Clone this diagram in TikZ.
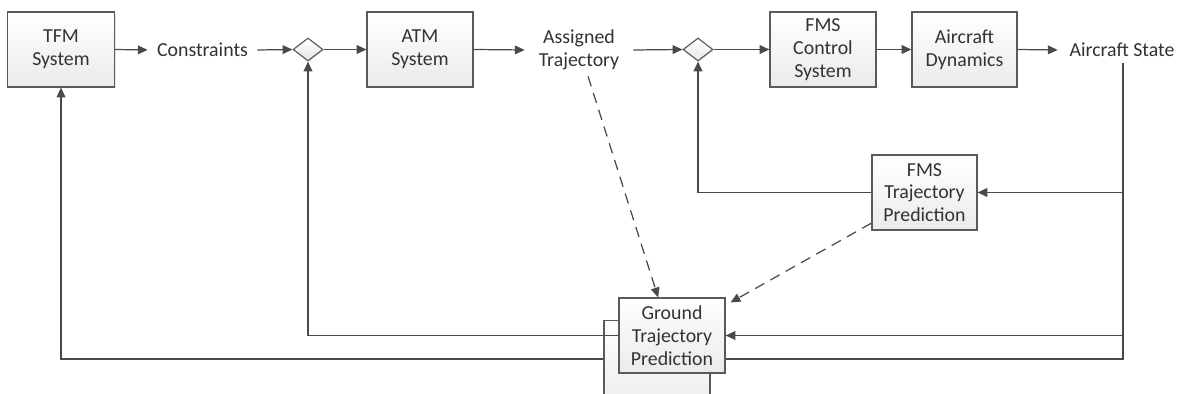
\documentclass[tikz,border=0pt]{standalone}
\usepackage{fontspec}
\setmainfont{Carlito}
\usetikzlibrary{shapes.geometric,arrows.meta,shadows,calc}
\definecolor{ln}{HTML}{4A4A4A}
\definecolor{bd}{HTML}{5A5A5A}
\definecolor{tx}{HTML}{333333}
\tikzset{
  blk/.style={draw=bd, line width=0.65pt, top color=white, bottom color=black!8,
    minimum width=2.12cm, minimum height=1.5cm, align=center, inner sep=2pt,
    text=tx, font=\fontsize{11.3}{13}\selectfont,
    drop shadow={shadow xshift=0.8pt, shadow yshift=-0.8pt, opacity=0.18}},
  lbl/.style={align=center, text=tx, font=\fontsize{11.3}{13}\selectfont, inner xsep=0pt},
  sumj/.style={diamond, draw=bd, line width=0.65pt, top color=white, bottom color=black!10,
    minimum width=0.6cm, minimum height=0.46cm, inner sep=0pt,
    drop shadow={shadow xshift=0.6pt, shadow yshift=-0.6pt, opacity=0.18}},
  con/.style={draw=ln, line width=0.7pt},
  arr/.style={con, -{Triangle[length=5.6pt,width=5pt]}},
  darr/.style={arr, dash pattern=on 6pt off 4pt},
}
\begin{document}
\begin{tikzpicture}[x=0.02cm,y=-0.02cm]
\useasboundingbox (0,0) rectangle (1180,394);
\clip (0,0) rectangle (1180,394);
\fill[white] (0,0) rectangle (1180,394);
% shadow box behind ground
\node[draw=bd, line width=0.65pt, top color=white, bottom color=black!7,
  minimum width=2.12cm, minimum height=1.7cm] (gsh) at (657,363) {};
% nodes
\node[blk, minimum width=2.14cm] (tfm) at (61,49.5) {TFM\\System};
\node[lbl, minimum width=2.18cm] (cons) at (202.5,50) {Constraints};
\node[sumj] (d1) at (308,49.5) {};
\node[blk] (atm) at (420,49.5) {ATM\\System};
\node[lbl, minimum width=2.16cm] (assigned) at (579,50) {Assigned\\Trajectory};
\node[sumj] (d2) at (698,49.5) {};
\node[blk] (fmsc) at (823,49.5) {FMS\\Control\\System};
\node[blk, minimum width=2.1cm] (acd) at (964.5,49.5) {Aircraft\\Dynamics};
\node[lbl, minimum width=2.56cm] (state) at (1122,50) {Aircraft State};
\node[blk, minimum width=2.1cm] (fmstp) at (924.5,192.5) {FMS\\Trajectory\\Prediction};
\node[blk] (ground) at (672,335.5) {Ground\\Trajectory\\Prediction};
\coordinate (rb) at (1123,359);
\coordinate (lb) at (61,359);
% forward path
\draw[arr] (tfm.east) -- (cons.west);
\draw[arr] (cons.east) -- (d1.west);
\draw[arr] (d1.east) -- (atm.west);
\draw[arr] (atm.east) -- (assigned.west);
\draw[arr] (assigned.east) -- (d2.west);
\draw[arr] (d2.east) -- (fmsc.west);
\draw[arr] (fmsc.east) -- (acd.west);
\draw[arr] (acd.east) -- (state.west);
% feedback
\draw[con] (rb |- state.south) -- (rb) -- (rb -| ground.east);
\draw[arr] (rb |- fmstp.east) -- (fmstp.east);
\draw[arr] (rb |- ground.east) -- (ground.east);
\draw[arr] (fmstp.west) -- (d2 |- fmstp.west) -- (d2.south);
\draw[arr] (ground.west) -- (d1 |- ground.west) -- (d1.south);
\draw[arr] (gsh.west |- lb) -- (lb) -- (tfm.south);
% dashed
\draw[darr] ($(assigned.south)+(9,0)$) -- (ground.110);
\draw[darr] (fmstp.210) -- ($(ground.north east)+(5,5)$);
\end{tikzpicture}
\end{document}
